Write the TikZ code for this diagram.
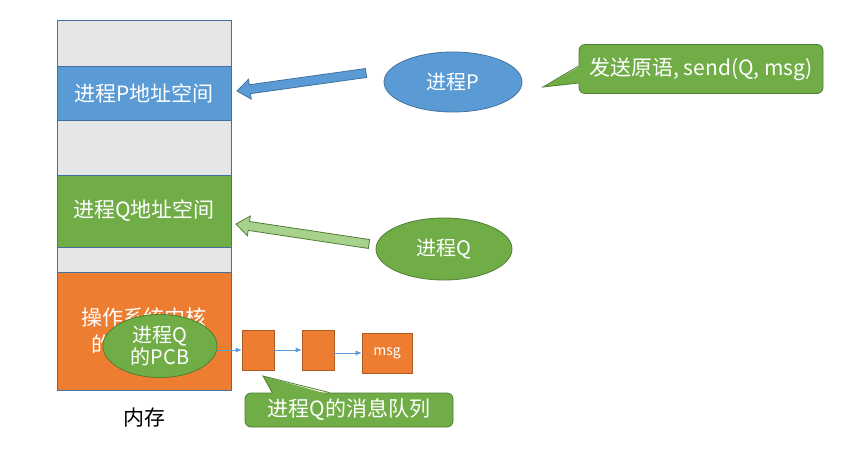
\documentclass[tikz,border=0pt]{standalone}
\usepackage{fontspec}
\setmainfont{Noto Sans CJK SC}
\usetikzlibrary{arrows.meta,positioning,shapes.geometric,calc}
\definecolor{blue}{HTML}{5B9BD5}
\definecolor{bluedark}{HTML}{41719C}
\definecolor{green}{HTML}{70AD47}
\definecolor{greendark}{HTML}{507E32}
\definecolor{greenlight}{HTML}{A9D18E}
\definecolor{orange}{HTML}{ED7D31}
\definecolor{orangedark}{HTML}{AE5A21}
\definecolor{cellgray}{HTML}{E7E6E6}
\tikzset{
  every node/.style={font=\fontsize{20}{25}\selectfont},
  cell/.style={draw=bluedark, line width=0.8pt, minimum width=174pt, inner sep=0pt, outer sep=0pt, text=white, align=center, font=\fontsize{21}{27}\selectfont},
  graycell/.style={cell, fill=cellgray},
  bluecell/.style={cell, fill=blue},
  greencell/.style={cell, fill=green},
  orangecell/.style={cell, fill=orange},
  proc/.style={ellipse, draw=bluedark, line width=0.8pt, inner sep=0pt, text=white, align=center},
  blueproc/.style={proc, fill=blue},
  greenproc/.style={proc, fill=green, draw=greendark},
  qbox/.style={draw=orangedark, line width=0.6pt, fill=orange, text=white, inner sep=0pt, font=\fontsize{14}{16}\selectfont},
  callout/.style={draw=greendark, line width=0.8pt, fill=green, rounded corners=6pt, text=white, inner sep=0pt, font=\fontsize{21}{25}\selectfont},
  qarrow/.style={-{Latex[length=6pt,width=5pt]}, line width=0.6pt, draw=blue},
  bigbluearrow/.style={fill=blue, draw=bluedark, line width=0.8pt},
  biggreenarrow/.style={fill=greenlight, draw=greendark, line width=0.8pt},
}
% block arrow: style, tail, tip
\newcommand\blockarrow[3]{%
  \coordinate (bah) at ($(#3)!13pt!(#2)$);
  \path[#1] ($(#2)!4.5pt!90:(#3)$) -- ($(bah)!4.5pt!-90:(#2)$) -- ($(bah)!10pt!-90:(#2)$)
    -- (#3) -- ($(bah)!10pt!90:(#2)$) -- ($(bah)!4.5pt!90:(#2)$) -- ($(#2)!4.5pt!-90:(#3)$) -- cycle;}

\begin{document}
\begin{tikzpicture}[x=1pt, y=-1pt]
\useasboundingbox (0,0) rectangle (852,450);
% memory column
\node[graycell, minimum height=46pt, anchor=north west] (top) at (57,20) {};
\node[bluecell, minimum height=54pt, below=0pt of top] (pspace) {进程P地址空间};
\node[graycell, minimum height=55pt, below=0pt of pspace] (gap1) {};
\node[greencell, minimum height=72pt, below=0pt of gap1] (qspace) {进程Q地址空间};
\node[graycell, minimum height=25pt, below=0pt of qspace] (gap2) {};
\node[orangecell, minimum height=118pt, below=0pt of gap2] (kernel) {操作系统内核\\的地址空间};
\node[below=14pt of kernel, font=\fontsize{21}{25}\selectfont] (mem) {内存};
% processes
\node[blueproc, minimum width=138pt, minimum height=60pt] (p) at (453,82) {进程P};
\node[greenproc, minimum width=136pt, minimum height=62pt] (q) at (444,249) {进程Q};
\node[greenproc, minimum width=114pt, minimum height=63pt] (pcb) at (160,346) {进程Q\\[-3pt]的PCB};
\coordinate (ptail) at (366,73);
\coordinate (ptip) at (237,91);
\coordinate (qtail) at (369,244);
\coordinate (qtip) at (236,224);
\blockarrow{bigbluearrow}{ptail}{ptip}
\blockarrow{biggreenarrow}{qtail}{qtip}
% message queue
\node[qbox, minimum width=32pt, minimum height=40pt] (m1) at (258,350) {};
\node[qbox, minimum width=32pt, minimum height=40pt] (m2) at (318,350) {};
\node[qbox, minimum width=50pt, minimum height=40pt] (m3) at (387,353) {msg};
\draw[qarrow] (pcb.east |- m1.west) -- (m1.west);
\draw[qarrow] (m1) -- (m2);
\draw[qarrow] (m2.east |- m3.west) -- (m3.west);
% callouts
\node[callout, minimum width=244pt, minimum height=49pt] (send) at (701,69) {发送原语, send(Q, msg)};
\coordinate (sendtip) at (543,87);
\fill[green] ($(send.west)+(2,-3)$) -- (sendtip) -- ($(send.west)+(2,14)$) -- cycle;
\draw[greendark, line width=0.8pt] ($(send.west)+(0,-3)$) -- (sendtip) -- ($(send.west)+(0,14)$);
\node[callout, minimum width=208pt, minimum height=34pt] (queue) at (349,410) {进程Q的消息队列};
\coordinate (queuetip) at (263,376);
\fill[green] ($(queue.north west)+(28,2)$) -- (queuetip) -- ($(queue.north west)+(85,2)$) -- cycle;
\draw[greendark, line width=0.8pt] ($(queue.north west)+(28,0)$) -- (queuetip) -- ($(queue.north west)+(85,0)$);
\end{tikzpicture}
\end{document}
